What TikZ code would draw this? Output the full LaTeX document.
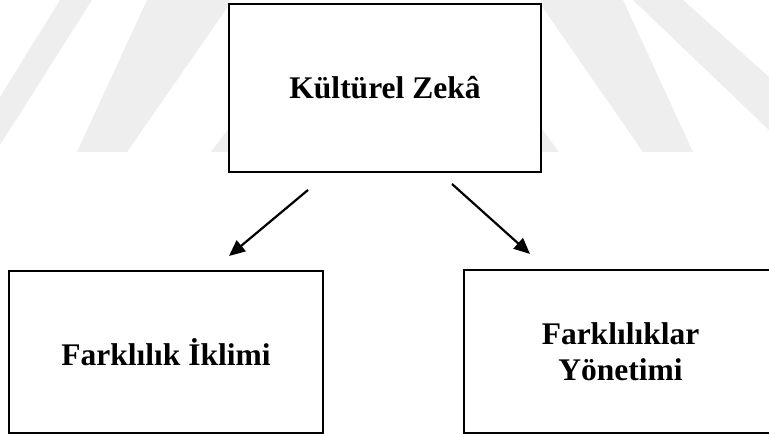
\documentclass[tikz,border=0pt]{standalone}
\usepackage{fontspec}
\setmainfont{Liberation Serif}
\usetikzlibrary{arrows.meta}
\definecolor{wm}{RGB}{238,238,238}
\tikzset{
  box/.style={draw=black, fill=white, line width=2.8pt, inner sep=0pt,
    align=center, font=\bfseries\fontsize{31.5}{36.5}\selectfont},
  conn/.style={line width=2.2pt, -{Triangle[length=16pt,width=14pt]}},
  band/.style={fill=wm, draw=none}
}
\begin{document}
\begin{tikzpicture}[x=1pt, y=-1pt]
\useasboundingbox (0,0) rectangle (769,435);
\clip (0,0) rectangle (769,435);
\fill[white] (0,0) rectangle (769,435);
% faint watermark bands
\fill[band] (60,0) -- (92,0) -- (0,145) -- (0,97) -- cycle;
\fill[band] (147,0) -- (229,0) -- (229,5) -- (127,152) -- (77,152) -- cycle;
\fill[band] (229,128) -- (229,152) -- (211,152) -- cycle;
\fill[band] (541,0) -- (623,0) -- (693,152) -- (643,152) -- (541,5) -- cycle;
\fill[band] (541,128) -- (541,152) -- (559,152) -- cycle;
\fill[band] (633,0) -- (683,0) -- (769,77) -- (769,130) -- cycle;
% boxes
\node[box, minimum width=312pt, minimum height=168pt] (top) at (385,88) {Kültürel Zekâ};
\node[box, minimum width=314pt, minimum height=162pt] (left) at (166,352) {Farklılık İklimi};
\node[box, minimum width=313pt, minimum height=163pt] (right) at (620.5,351.5) {Farklılıklar\\Yönetimi};
% arrows
\coordinate (a1s) at (308,190);
\coordinate (a1e) at (229,256);
\coordinate (a2s) at (452,184);
\coordinate (a2e) at (530,254);
\draw[conn] (a1s) -- (a1e);
\draw[conn] (a2s) -- (a2e);
\end{tikzpicture}
\end{document}
